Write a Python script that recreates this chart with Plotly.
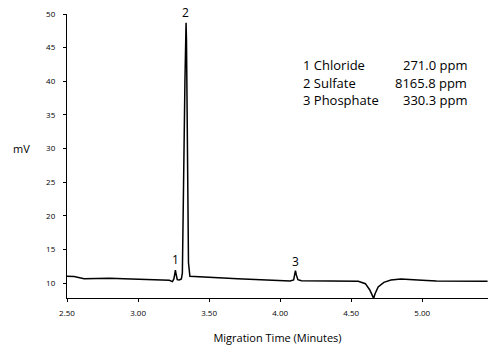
import plotly.graph_objects as go

# Electropherogram trace (time in minutes, signal in mV)
time_min = [2.50, 2.55, 2.62, 2.70, 2.80, 2.90, 3.00, 3.10, 3.18, 3.22, 3.242, 3.252,
            3.258, 3.263, 3.268, 3.276, 3.290, 3.305, 3.312, 3.316, 3.320, 3.325,
            3.330, 3.334, 3.338, 3.341, 3.344, 3.348, 3.355, 3.365, 3.40, 3.50,
            3.60, 3.70, 3.80, 3.90, 4.00, 4.07, 4.095, 4.103, 4.108, 4.114, 4.125,
            4.15, 4.25, 4.35, 4.45, 4.55, 4.60, 4.63, 4.648, 4.658, 4.668, 4.69,
            4.73, 4.78, 4.85, 4.92, 5.00, 5.10, 5.20, 5.30, 5.46]
signal_mv = [11.0, 10.95, 10.65, 10.7, 10.7, 10.65, 10.6, 10.55, 10.45, 10.4, 10.2, 10.6,
             11.3, 11.9, 11.3, 10.5, 10.45, 10.6, 11.5, 16.0, 24.0, 32.0,
             40.0, 46.0, 48.7, 46.0, 36.0, 22.0, 13.0, 11.0, 10.95, 10.85,
             10.75, 10.65, 10.55, 10.45, 10.35, 10.3, 10.45, 11.3, 11.85, 11.2, 10.5,
             10.35, 10.35, 10.35, 10.3, 10.25, 9.9, 9.0, 8.2, 7.7, 8.4, 9.4,
             10.1, 10.45, 10.6, 10.55, 10.4, 10.3, 10.3, 10.25, 10.25]

peak_numbers = ["1", "2", "3"]
peak_times = [3.263, 3.334, 4.108]
peak_label_pos = [0.134, 1.007, 0.130]   # paper fraction of plot height

analytes = ["1 Chloride", "2 Sulfate", "3 Phosphate"]
concentrations = ["271.0 ppm", "8165.8 ppm", "330.3 ppm"]

x_ticks = [2.5, 3.0, 3.5, 4.0, 4.5, 5.0]
x_tick_text = ["2.50", "3.00", "3.50", "4.00", "4.50", "5.00"]
y_ticks = [10, 15, 20, 25, 30, 35, 40, 45, 50]

FONT = "Open Sans, DejaVu Sans, sans-serif"

fig = go.Figure()
fig.add_trace(go.Scatter(x=time_min, y=signal_mv, mode="lines",
                         line=dict(color="black", width=1.5), hoverinfo="skip",
                         showlegend=False))

for n, t, p in zip(peak_numbers, peak_times, peak_label_pos):
    fig.add_annotation(x=t, y=p, xref="x", yref="paper", text=n, showarrow=False,
                       yanchor="middle",
                       font=dict(family=FONT, size=12, color="black"))

for i, (a, c) in enumerate(zip(analytes, concentrations)):
    yy = 0.820 - i * 0.062
    fig.add_annotation(xref="paper", yref="paper", x=0.555, y=yy, text=a,
                       showarrow=False, xanchor="left", yanchor="middle",
                       font=dict(family=FONT, size=13, color="black"))
    fig.add_annotation(xref="paper", yref="paper", x=0.955, y=yy, text=c,
                       showarrow=False, xanchor="right", yanchor="middle",
                       font=dict(family=FONT, size=13, color="black"))

fig.add_annotation(xref="paper", yref="paper", x=-0.107, y=0.528, text="mV",
                   showarrow=False, xanchor="center", yanchor="middle",
                   font=dict(family=FONT, size=11, color="black"))

fig.update_layout(
    width=488, height=347,
    margin=dict(l=67, r=0, t=14, b=49),
    paper_bgcolor="white", plot_bgcolor="white",
    font=dict(family=FONT, color="black"),
    xaxis=dict(range=[2.5, 5.463], tickvals=x_ticks, ticktext=x_tick_text,
               showgrid=False, zeroline=False, showline=True, linecolor="black",
               linewidth=1.3, ticks="outside", ticklen=3, tickwidth=1,
               tickcolor="black", tickfont=dict(family=FONT, size=8, color="black"),
               ticklabelstandoff=4,
               title=dict(text="Migration Time (Minutes)",
                          font=dict(family=FONT, size=11, color="black"),
                          standoff=17)),
    yaxis=dict(range=[7.77, 50.0], tickvals=y_ticks, showgrid=False,
               zeroline=False, showline=True, linecolor="black", linewidth=1.3,
               ticks="outside", ticklen=3, tickwidth=1, tickcolor="black",
               ticklabelstandoff=6,
               tickfont=dict(family=FONT, size=8, color="black")),
)

fig.write_html("out.html")
